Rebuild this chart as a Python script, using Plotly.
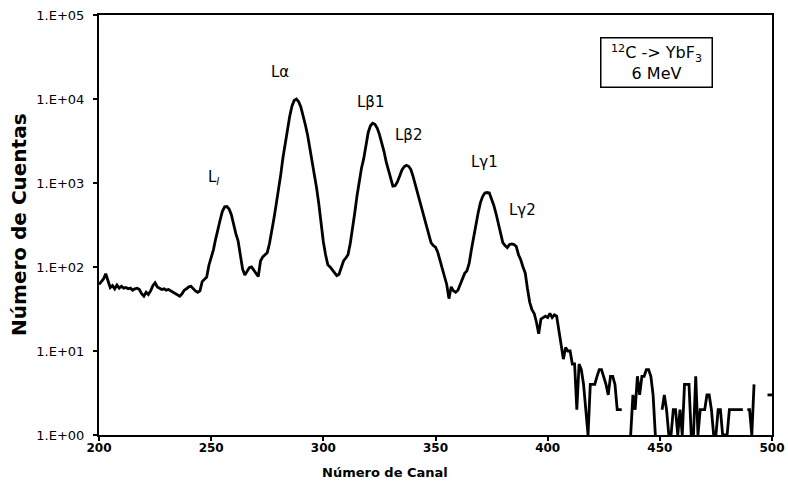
import math
import plotly.graph_objects as go

# Channel numbers of the spectrum (one count value per channel)
channels = list(range(200, 501))

# Counts per channel, 12C -> YbF3 at 6 MeV (0 = no counts recorded)
counts = [
    62, 66, 72, 83, 70, 57, 60, 55, 61, 56,          # 200-209
    59, 56, 57, 55, 56, 53, 55, 56, 54, 48,          # 210-219
    45, 50, 47, 52, 60, 65, 58, 56, 54, 55,          # 220-229
    53, 54, 52, 51, 49, 47, 45, 48, 53, 55,          # 230-239
    58, 59, 55, 52, 50, 52, 67, 72, 76, 105,         # 240-249
    130, 160, 215, 290, 363, 460, 520, 525, 490, 420,  # 250-259
    320, 250, 205, 130, 95, 80, 88, 98, 100, 92,     # 260-269
    85, 77, 118, 132, 140, 148, 190, 262, 380, 560,  # 270-279
    800, 1250, 2000, 2900, 4500, 6200, 8200, 9600, 10000, 9300,  # 280-289
    8000, 6400, 4900, 3700, 2600, 1800, 1200, 870, 560, 330,     # 290-299
    200, 140, 106, 100, 93, 85, 79, 82, 102, 118,    # 300-309
    128, 140, 190, 280, 440, 700, 1100, 1500, 1950, 2800,        # 310-319
    4000, 4800, 5150, 5000, 4500, 3800, 3100, 2400, 1800, 1400,  # 320-329
    1100, 920, 930, 1030, 1200, 1420, 1560, 1620, 1580, 1450,    # 330-339
    1200, 950, 760, 590, 470, 380, 310, 230, 195, 180,           # 340-349
    172, 150, 122, 100, 80, 62, 42, 58, 52, 50,      # 350-359
    53, 62, 72, 84, 90, 110, 160, 230, 330, 440,     # 360-369
    580, 690, 760, 770, 760, 650, 540, 430, 330, 250,  # 370-379
    195, 180, 170, 185, 188, 185, 175, 140, 122, 100,  # 380-389
    85, 55, 38, 31, 28, 22, 16, 24, 25, 26,          # 390-399
    25, 28, 25, 27, 26, 18, 11, 8, 11, 10,           # 400-409
    10, 7, 7, 2, 7, 6, 4, 2, 1, 4,                   # 410-419
    4, 4, 5, 6, 6, 5, 4, 3, 5, 5,                    # 420-429
    4, 2, 2, 2, 0, 0, 0, 1, 3, 2,                    # 430-439
    5, 3, 5, 5, 6, 6, 5, 3, 1, 0,                    # 440-449
    0, 2, 3, 2, 1, 1, 2, 2, 1, 2,                    # 450-459
    1, 4, 4, 4, 1, 1, 5, 1, 2, 2,                    # 460-469
    2, 3, 3, 2, 1, 1, 2, 2, 1, 1,                    # 470-479
    1, 2, 2, 2, 2, 2, 2, 2, 0, 2,                    # 480-489
    2, 1, 4, 0, 0, 0, 0, 0, 3, 3,                    # 490-499
    3,                                               # 500
]

# Peak labels: text, channel and height (counts) where each label sits
peak_names = ["L<sub><i>l</i></sub>", "L\u03b1", "L\u03b21", "L\u03b22", "L\u03b31", "L\u03b32"]
peak_label_x = [251, 280.5, 321, 338, 372, 389]
peak_label_y = [1170, 21000, 9100, 3700, 1780, 480]

# Axis ticks
x_ticks = [200, 250, 300, 350, 400, 450, 500]
y_ticks = [1, 10, 100, 1000, 10000, 100000]
y_tick_text = ["1.E+00", "1.E+01", "1.E+02", "1.E+03", "1.E+04", "1.E+05"]

# Zero counts cannot be placed on a log axis, leave them as gaps
plot_counts = [c if c > 0 else None for c in counts]

FONT = "DejaVu Sans"

fig = go.Figure()
fig.add_trace(go.Scatter(
    x=channels, y=plot_counts, mode="lines",
    line=dict(color="black", width=2.8, shape="linear"),
    connectgaps=False, hoverinfo="skip", showlegend=False,
))

# Annotations on a log axis take the exponent as their y position
for name, px, py in zip(peak_names, peak_label_x, peak_label_y):
    fig.add_annotation(x=px, y=math.log10(py), xref="x", yref="y", text=name,
                       showarrow=False, xanchor="center", yanchor="middle",
                       font=dict(family=FONT, size=15, color="black"))

# Reaction / energy box
fig.add_annotation(
    x=0.829, y=0.887, xref="paper", yref="paper",
    xanchor="center", yanchor="middle",
    text="<sup>12</sup>C -> YbF<sub>3</sub><br>6 MeV",
    showarrow=False, align="center",
    font=dict(family=FONT, size=16, color="black"),
    bordercolor="black", borderwidth=1.5, borderpad=3,
    bgcolor="white", width=104, height=42,
)

# Axis titles
fig.add_annotation(
    x=0.425, y=-0.09, xref="paper", yref="paper", text="Número de Canal",
    showarrow=False, xanchor="center", yanchor="middle",
    font=dict(family=FONT, size=13, color="black", weight="bold"),
)
fig.add_annotation(
    x=-0.119, y=0.5, xref="paper", yref="paper", text="Número de Cuentas",
    showarrow=False, textangle=-90, xanchor="center", yanchor="middle",
    font=dict(family=FONT, size=20, color="black", weight="bold"),
)

fig.update_layout(
    width=788, height=482,
    margin=dict(l=99, r=16, t=15, b=47),
    paper_bgcolor="white", plot_bgcolor="white",
    font=dict(family=FONT, color="black"),
)
fig.update_xaxes(
    range=[200, 500], tickvals=x_ticks, ticks="outside", ticklen=4,
    tickcolor="black", tickwidth=1.5, automargin=False,
    showgrid=False, zeroline=False,
    showline=True, linecolor="black", linewidth=2, mirror=True,
    tickfont=dict(family=FONT, size=12, color="black", weight="bold"),
    ticklabelstandoff=-3,
)
fig.update_yaxes(
    type="log", range=[0, 5], tickvals=y_ticks, ticktext=y_tick_text,
    ticks="outside", ticklen=4, tickcolor="black", tickwidth=1.5,
    automargin=False,
    showgrid=False, zeroline=False,
    showline=True, linecolor="black", linewidth=2, mirror=True,
    tickfont=dict(family=FONT, size=13, color="black"),
    ticklabelstandoff=6,
)

fig.write_html("out.html")
